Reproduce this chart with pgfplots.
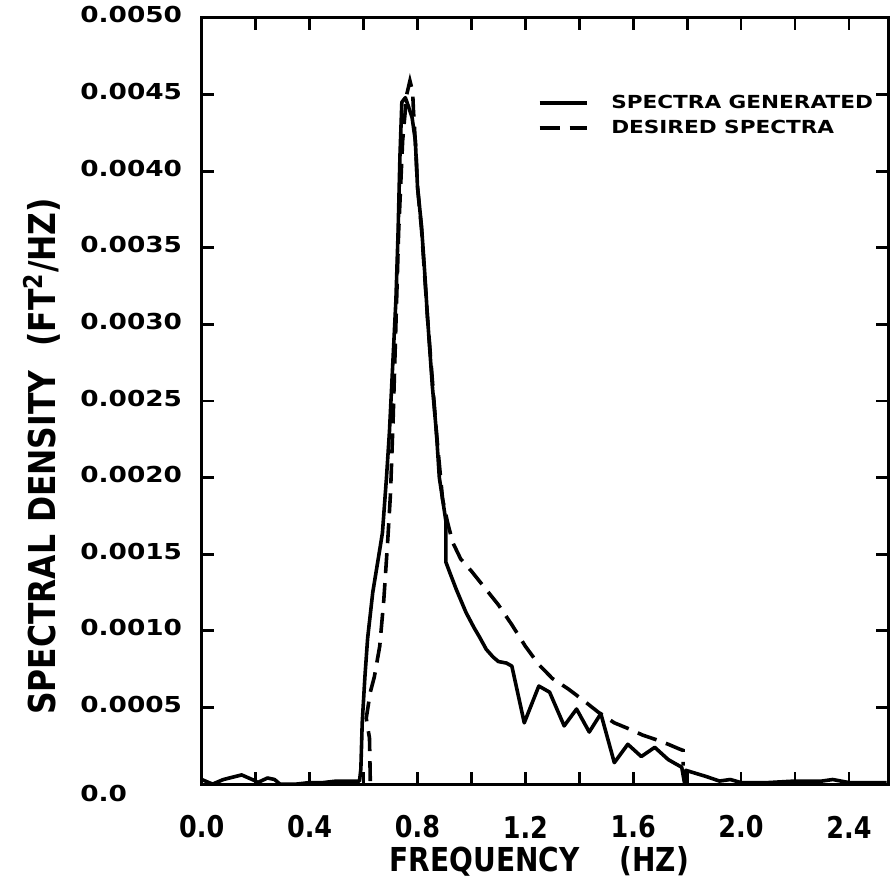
\documentclass[border=0pt]{standalone}
\usepackage{fontspec}
\setmainfont{DejaVu Sans}
\newfontfamily\condfont{DejaVu Sans}[FakeStretch=0.85]
\newfontfamily\widefont{DejaVu Sans}[FakeStretch=1.2]
\usepackage{pgfplots}
\pgfplotsset{compat=1.18}

\begin{document}
\begin{tikzpicture}
\begin{axis}[
    at={(0,0)}, anchor=origin,
    scale only axis,
    width=343.5pt, height=383.5pt,
    xmin=0, xmax=2.545,
    ymin=0, ymax=0.005,
    clip=false,
    axis line style={line width=1.5pt},
    tick style={line width=1.4pt, black},
    major tick length=6pt,
    tick align=inside,
    xtick={0,0.2,...,2.4},
    xticklabels={0.0,,0.4,,0.8,,1.2,,1.6,,2.0,,2.4},
    ytick={0,0.0005,...,0.005},
    yticklabels={\raisebox{-6pt}{0.0},0.0005,0.0010,0.0015,0.0020,0.0025,0.0030,0.0035,0.0040,0.0045,0.0050},
    scaled y ticks=false,
    xticklabel style={anchor=center, yshift=-21.5pt, font=\condfont\bfseries\fontsize{15}{15}\selectfont},
    yticklabel style={anchor=base west, inner sep=0pt, xshift=-61pt, yshift=-2.5pt, font=\widefont\bfseries\fontsize{11}{11}\selectfont},
    xlabel={FREQUENCY\hspace{20pt}(HZ)},
    xlabel style={at={(axis description cs:0.492,-0.1004)}, anchor=center, font=\condfont\bfseries\fontsize{16.5}{16.5}\selectfont},
    ylabel={SPECTRAL\hspace{6pt}DENSITY\hspace{12pt}(FT\textsuperscript{2}/HZ)},
    ylabel style={at={(axis description cs:-0.2329,0.4276)}, anchor=center, font=\condfont\bfseries\fontsize{18.5}{18.5}\selectfont},
    legend image code/.code={\draw[#1] (0pt,0pt) -- (24pt,0pt);},
    legend cell align=left,
    legend style={draw=none, fill=none, inner sep=0pt,
        at={(0.489,0.9055)}, anchor=north west,
        font=\widefont\bfseries\fontsize{9}{9}\selectfont,
        nodes={inner sep=0pt, minimum height=12.5pt},
        /tikz/every odd column/.append style={column sep=11pt}},
]

% spectra generated
\addplot[black, line width=1.8pt, line join=round] coordinates {
(0.00,0.00003)(0.04,0.00000)(0.08,0.00003)(0.148,0.00006)(0.20,0.00002)(0.207,0.00001)
(0.244,0.00004)(0.27,0.00003)(0.29,0.00000)(0.35,0.00000)(0.40,0.00001)(0.45,0.00001)
(0.50,0.00002)(0.55,0.00002)(0.585,0.00002)
(0.59,0.00010)(0.595,0.0004)(0.605,0.0007)(0.615,0.00095)(0.634,0.00125)(0.66,0.00153)
(0.67,0.00164)(0.685,0.0020)(0.696,0.0023)(0.708,0.00273)(0.72,0.00316)(0.728,0.0036)
(0.735,0.0041)(0.742,0.00445)(0.755,0.00448)(0.765,0.00443)(0.78,0.00435)(0.792,0.0042)
(0.80,0.0039)(0.815,0.00364)(0.826,0.00336)(0.837,0.00305)(0.855,0.0026)(0.87,0.0023)
(0.881,0.0020)(0.893,0.00186)(0.905,0.00172)(0.905,0.00145)(0.92,0.00138)(0.944,0.00127)
(0.98,0.00112)(1.01,0.00102)(1.03,0.00096)(1.055,0.00088)(1.08,0.00083)(1.10,0.00080)
(1.13,0.00079)(1.15,0.00077)(1.196,0.00040)(1.25,0.00064)(1.29,0.00060)(1.344,0.00038)
(1.39,0.00049)(1.437,0.00034)(1.48,0.00046)(1.53,0.00014)(1.58,0.00026)(1.63,0.00018)
(1.68,0.00024)(1.73,0.00016)(1.78,0.00011)(1.79,0.00001)(1.795,0.00009)(1.87,0.00005)
(1.92,0.00002)(1.96,0.00003)(2.00,0.00001)(2.10,0.00001)(2.20,0.00002)(2.30,0.00002)
(2.34,0.00003)(2.40,0.00001)(2.54,0.00001)
};
\addlegendentry{SPECTRA GENERATED}

% desired spectra
\addplot[black, line width=1.8pt, dash pattern=on 10pt off 5pt] coordinates {
(0.625,0.00002)(0.622,0.0003)(0.61,0.00043)(0.625,0.0006)(0.64,0.0007)(0.66,0.0009)
(0.675,0.0012)(0.69,0.0016)(0.70,0.0019)(0.71,0.0024)(0.72,0.0030)(0.73,0.0036)
(0.745,0.0042)(0.76,0.0045)(0.772,0.00459)(0.782,0.00452)(0.785,0.0044)(0.795,0.0041)
(0.80,0.0039)(0.815,0.00362)(0.837,0.00305)(0.87,0.0023)(0.893,0.00186)(0.91,0.00172)
(0.93,0.00158)(0.96,0.00147)(1.00,0.00139)(1.05,0.00128)(1.10,0.00117)(1.15,0.00104)
(1.20,0.00090)(1.25,0.00078)(1.30,0.00069)(1.36,0.00062)(1.42,0.00054)(1.47,0.00047)
(1.53,0.00040)(1.585,0.00036)(1.635,0.00032)(1.685,0.00029)(1.73,0.00026)(1.77,0.00023)
(1.785,0.00022)(1.785,0.00012)
};
\addlegendentry{DESIRED SPECTRA}
\end{axis}
\pgfresetboundingbox
\useasboundingbox (-101pt,-48pt) rectangle (345.5pt,392.5pt);
\end{tikzpicture}
\end{document}
